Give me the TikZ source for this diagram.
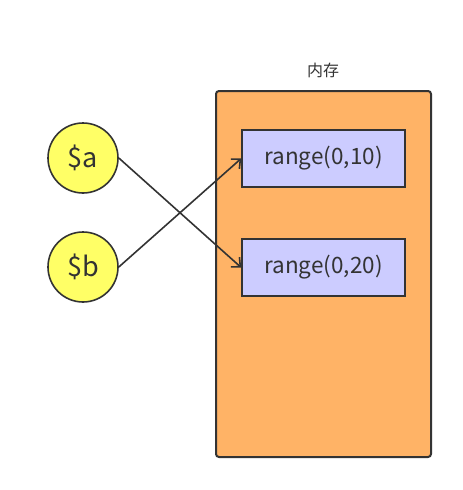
\documentclass[tikz,border=0pt]{standalone}
\usepackage{fontspec}
\setmainfont{Noto Sans CJK SC}
\usepackage{tikz}
\usetikzlibrary{arrows.meta}
\usetikzlibrary{positioning}

\definecolor{memfill}{HTML}{FFB366}
\definecolor{rangefill}{HTML}{CCCCFF}
\definecolor{varfill}{HTML}{FFFF66}
\definecolor{inkgray}{HTML}{333333}

\begin{document}
\begin{tikzpicture}[x=1pt, y=-1pt,
  memory/.style={draw=inkgray, line width=2pt, fill=memfill, rounded corners=3pt,
    minimum width=215pt, minimum height=366pt, inner sep=0pt},
  rangebox/.style={draw=inkgray, line width=1.6pt, fill=rangefill, text=inkgray,
    minimum width=163pt, minimum height=57pt, inner sep=0pt, font=\fontsize{22.5}{26}\selectfont},
  var/.style={circle, draw=inkgray, line width=1.6pt, fill=varfill, text=inkgray,
    minimum size=70pt, inner sep=0pt, font=\fontsize{27}{30}\selectfont},
  conn/.style={draw=inkgray, line width=1.6pt, -{Straight Barb[length=7pt, width=13pt]}}]

\useasboundingbox (0,0) rectangle (463,490);

% memory block
\node[memory] (mem) at (323.5,274) {};
\node[text=inkgray, font=\fontsize{16}{18}\selectfont] (memlabel) at (323,70) {内存};

\node[rangebox] (r1) at (323.5,158.5) {range(0,10)};
\node[rangebox] (r2) at (323.5,267.5) {range(0,20)};

% variables
\node[var] (a) at (83,158) {\$a};
\node[var] (b) at (83,267) {\$b};

\draw[conn] (a.east) -- (r2.west);
\draw[conn] (b.east) -- (r1.west);

\end{tikzpicture}
\end{document}
